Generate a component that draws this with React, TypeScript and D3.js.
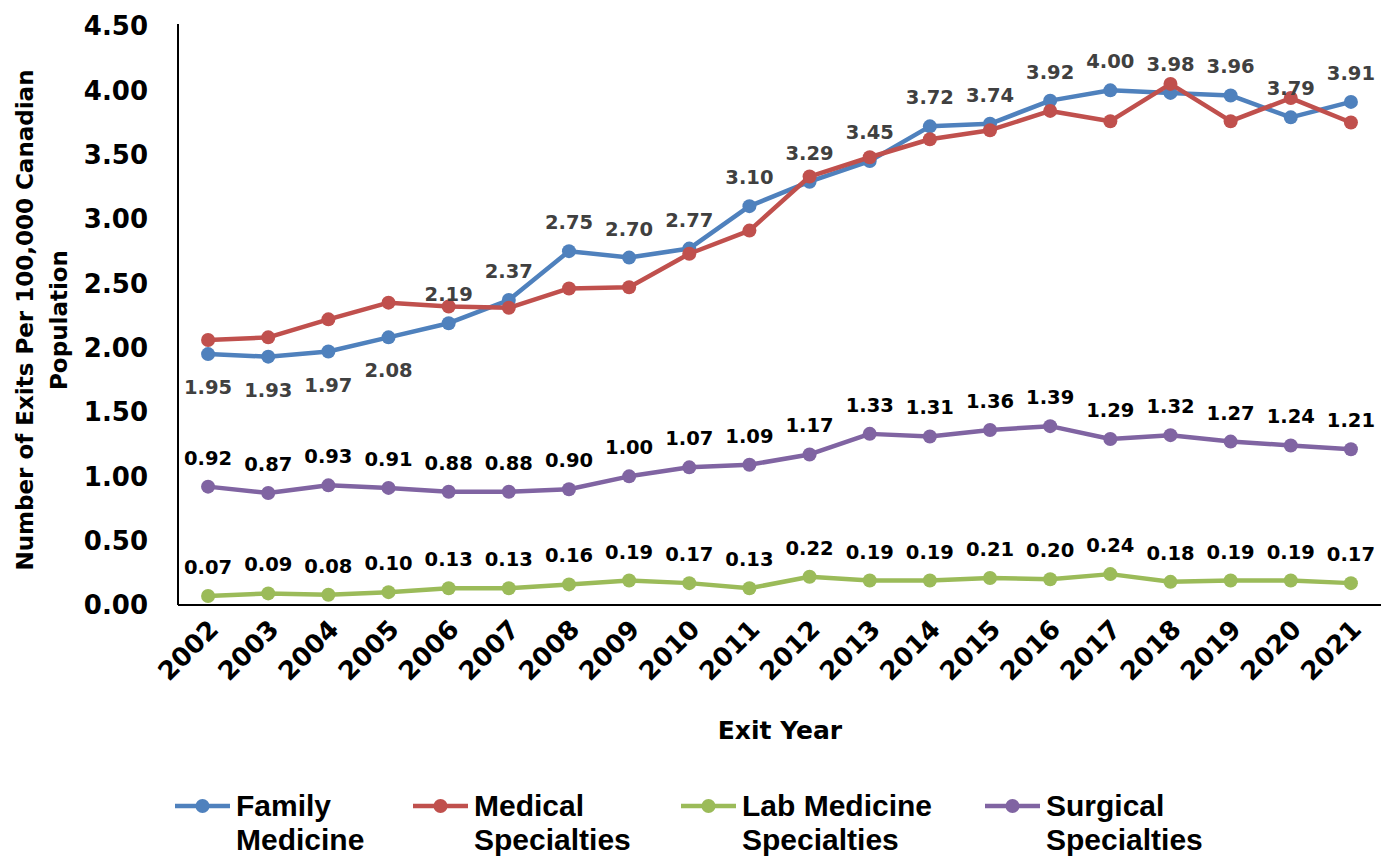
import React, { useEffect, useRef } from 'react';
import * as d3 from 'd3';

const years = ['2002', '2003', '2004', '2005', '2006', '2007', '2008', '2009', '2010', '2011',
    '2012', '2013', '2014', '2015', '2016', '2017', '2018', '2019', '2020', '2021'];

const familyMedicine = [1.95, 1.93, 1.97, 2.08, 2.19, 2.37, 2.75, 2.70, 2.77, 3.10,
    3.29, 3.45, 3.72, 3.74, 3.92, 4.00, 3.98, 3.96, 3.79, 3.91];
const medicalSpecialties = [2.06, 2.08, 2.22, 2.35, 2.32, 2.31, 2.46, 2.47, 2.73, 2.91,
    3.33, 3.48, 3.62, 3.69, 3.84, 3.76, 4.05, 3.76, 3.94, 3.75];
const labMedicine = [0.07, 0.09, 0.08, 0.10, 0.13, 0.13, 0.16, 0.19, 0.17, 0.13,
    0.22, 0.19, 0.19, 0.21, 0.20, 0.24, 0.18, 0.19, 0.19, 0.17];
const surgicalSpecialties = [0.92, 0.87, 0.93, 0.91, 0.88, 0.88, 0.90, 1.00, 1.07, 1.09,
    1.17, 1.33, 1.31, 1.36, 1.39, 1.29, 1.32, 1.27, 1.24, 1.21];

const yTicks = [0, 0.5, 1, 1.5, 2, 2.5, 3, 3.5, 4, 4.5];

// family medicine labels sit below the point for these years
const familyBelow = ['2002', '2003', '2004', '2005'];

const series = [
    { name: ['Family', 'Medicine'], values: familyMedicine, color: '#4F81BD', labels: true, labelColor: '#404040' },
    { name: ['Medical', 'Specialties'], values: medicalSpecialties, color: '#C0504D', labels: false, labelColor: '#000' },
    { name: ['Lab Medicine', 'Specialties'], values: labMedicine, color: '#9BBB59', labels: true, labelColor: '#000' },
    { name: ['Surgical', 'Specialties'], values: surgicalSpecialties, color: '#8064A2', labels: true, labelColor: '#000' },
];

const legendX = [175, 413, 681, 985];

const numFont = '"DejaVu Sans", sans-serif';
const legendFont = '"Liberation Sans", Arial, sans-serif';

const App = () => {
    const svgRef = useRef(null);
    const width = 1391;
    const height = 856;

    useEffect(() => {
        const svg = d3.select(svgRef.current);
        svg.selectAll('*').remove();

        const margin = { top: 26, right: 10, bottom: 251, left: 178 };
        const innerBottom = height - margin.bottom;

        const xScale = d3.scaleBand()
            .domain(years)
            .range([margin.left, width - margin.right])
            .padding(0);

        const yScale = d3.scaleLinear()
            .domain([0, 4.5])
            .range([innerBottom, margin.top]);

        const cx = d => xScale(d) + xScale.bandwidth() / 2;

        // axes lines
        svg.append('line')
            .attr('x1', margin.left).attr('x2', margin.left)
            .attr('y1', margin.top - 2).attr('y2', innerBottom)
            .attr('stroke', '#000').attr('stroke-width', 2);
        svg.append('line')
            .attr('x1', margin.left).attr('x2', width - margin.right)
            .attr('y1', innerBottom).attr('y2', innerBottom)
            .attr('stroke', '#000').attr('stroke-width', 2);

        // y tick labels
        svg.append('g')
            .selectAll('text')
            .data(yTicks)
            .enter()
            .append('text')
            .attr('x', 148)
            .attr('y', d => yScale(d))
            .attr('dy', '0.36em')
            .attr('text-anchor', 'end')
            .attr('font-family', numFont)
            .attr('font-weight', 'bold')
            .attr('font-size', 26)
            .text(d => d.toFixed(2));

        // x tick labels
        svg.append('g')
            .selectAll('text')
            .data(years)
            .enter()
            .append('text')
            .attr('transform', d => `translate(${cx(d) + 12},${innerBottom + 26}) rotate(-45)`)
            .attr('text-anchor', 'end')
            .attr('font-family', numFont)
            .attr('font-weight', 'bold')
            .attr('font-size', 26)
            .text(d => d);

        // axis titles
        svg.append('text')
            .attr('x', 780)
            .attr('y', 739)
            .attr('text-anchor', 'middle')
            .attr('font-family', numFont)
            .attr('font-weight', 'bold')
            .attr('font-size', 25)
            .text('Exit Year');

        const yTitle = svg.append('text')
            .attr('transform', 'translate(33,320) rotate(-90)')
            .attr('text-anchor', 'middle')
            .attr('font-family', numFont)
            .attr('font-weight', 'bold')
            .attr('font-size', 23);
        yTitle.append('tspan').attr('x', 0).attr('dy', 0).text('Number of Exits Per 100,000 Canadian');
        yTitle.append('tspan').attr('x', 0).attr('dy', 34).text('Population');

        const line = d3.line()
            .x((d, i) => cx(years[i]))
            .y(d => yScale(d));

        series.forEach(s => {
            svg.append('path')
                .datum(s.values)
                .attr('fill', 'none')
                .attr('stroke', s.color)
                .attr('stroke-width', 4.5)
                .attr('stroke-linejoin', 'round')
                .attr('d', line);

            svg.append('g')
                .selectAll('circle')
                .data(s.values)
                .enter()
                .append('circle')
                .attr('cx', (d, i) => cx(years[i]))
                .attr('cy', d => yScale(d))
                .attr('r', 7)
                .attr('fill', s.color);
        });

        // data labels drawn on top
        series.forEach(s => {
            if (!s.labels) return;
            svg.append('g')
                .selectAll('text')
                .data(s.values)
                .enter()
                .append('text')
                .attr('x', (d, i) => cx(years[i]))
                .attr('y', (d, i) => {
                    const below = s.values === familyMedicine && familyBelow.includes(years[i]);
                    return yScale(d) + (below ? 40 : -22);
                })
                .attr('text-anchor', 'middle')
                .attr('font-family', numFont)
                .attr('font-weight', 'bold')
                .attr('font-size', 19.5)
                .attr('fill', s.labelColor)
                .text(d => d.toFixed(2));
        });

        // legend
        series.forEach((s, i) => {
            const lx = legendX[i];
            const g = svg.append('g');
            g.append('line')
                .attr('x1', lx).attr('x2', lx + 55)
                .attr('y1', 806).attr('y2', 806)
                .attr('stroke', s.color).attr('stroke-width', 4.5);
            g.append('circle')
                .attr('cx', lx + 27.5).attr('cy', 806).attr('r', 7)
                .attr('fill', s.color);
            g.append('text')
                .attr('x', lx + 61)
                .attr('y', 816)
                .attr('font-family', legendFont)
                .attr('font-weight', 'bold')
                .attr('font-size', 30)
                .text(s.name[0]);
            g.append('text')
                .attr('x', lx + 61)
                .attr('y', 850)
                .attr('font-family', legendFont)
                .attr('font-weight', 'bold')
                .attr('font-size', 30)
                .text(s.name[1]);
        });

        svg.attr('width', width);
        svg.attr('height', height);
    }, []);

    return (
        <svg
            ref={svgRef}
            width={width}
            height={height}
            style={{ position: 'absolute', left: 0, top: 0, background: '#fff' }}
        />
    );
};

export default App;
